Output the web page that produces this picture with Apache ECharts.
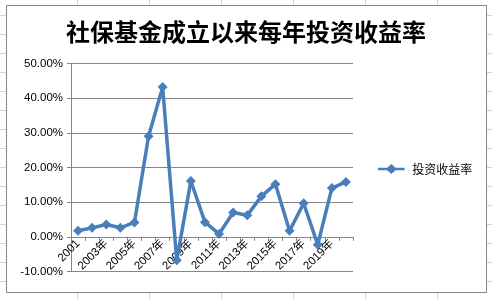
<!DOCTYPE html>
<html><head><meta charset="utf-8">
<script src="https://cdn.jsdelivr.net/npm/echarts@6/dist/echarts.min.js"></script>
<style>html,body{margin:0;padding:0;background:#fff}#c{width:492px;height:299px}</style>
</head><body><div id="c"></div>
<script>
const title = '社保基金成立以来每年投资收益率';
const seriesName = '投资收益率';
const categories = ['2001','2002年','2003年','2004年','2005年','2006年','2007年','2008年','2009年','2010年','2011年','2012年','2013年','2014年','2015年','2016年','2017年','2018年','2019年','2020年'];
const returns = [1.73, 2.59, 3.56, 2.61, 4.16, 29.01, 43.19, -6.79, 16.12, 4.23, 0.84, 7.01, 6.20, 11.69, 15.19, 1.73, 9.68, -2.28, 14.06, 15.84];
const yTicks = {min: -10, max: 50, interval: 10};

const sheet = '#d4d4d4';
const graphics = [];
[77,149,221,293,365,437].forEach(x=>{
  graphics.push({type:'line',shape:{x1:x+0.5,y1:0,x2:x+0.5,y2:5},style:{stroke:sheet,lineWidth:1},silent:true});
  graphics.push({type:'line',shape:{x1:x+0.5,y1:293,x2:x+0.5,y2:299},style:{stroke:sheet,lineWidth:1},silent:true});
});
for(let y=15;y<299;y+=19){
  graphics.push({type:'line',shape:{x1:0,y1:y+0.5,x2:6,y2:y+0.5},style:{stroke:sheet,lineWidth:1},silent:true});
  graphics.push({type:'line',shape:{x1:487,y1:y+0.5,x2:492,y2:y+0.5},style:{stroke:sheet,lineWidth:1},silent:true});
}
graphics.push({type:'rect',shape:{x:6.5,y:5.5,width:480,height:287},style:{fill:null,stroke:'#868686',lineWidth:1},silent:true,z:-1});

const gridTop = 63.5, gridBottom = 27.5, H = 299;
const plotH = H - gridTop - gridBottom;
const zeroOffset = -plotH * (0 - yTicks.min) / (yTicks.max - yTicks.min);

const chart = echarts.init(document.getElementById('c'), null, {renderer:'canvas'});
chart.setOption({
  animation:false,
  backgroundColor:'#fff',
  graphic: graphics,
  title:{text:title,left:'center',top:15,textStyle:{fontFamily:'Noto Sans CJK SC',fontSize:24,fontWeight:'bold',color:'#000'}},
  legend:{show:true,data:[seriesName],left:373,top:158,orient:'vertical',itemWidth:32,itemHeight:10,
    icon:'path://M0,3.6 L11,3.6 L16,-1 L21,3.6 L32,3.6 L32,6.4 L21,6.4 L16,11 L11,6.4 L0,6.4 Z',
    itemStyle:{color:'#4a7ebb'},
    textStyle:{fontSize:12,color:'#000',fontFamily:'Noto Sans CJK SC'},itemGap:4},
  grid:{left:71,right:139,top:gridTop,bottom:gridBottom,containLabel:false,outerBoundsMode:'none'},
  xAxis:{type:'category',data:categories,boundaryGap:true,position:'bottom',offset:zeroOffset,
    axisLine:{onZero:false,lineStyle:{color:'#868686',width:1}},
    axisTick:{show:true,interval:0,length:4,lineStyle:{color:'#868686'}},
    axisLabel:{interval:1,rotate:45,fontSize:11.5,color:'#000',margin:5,fontFamily:'Liberation Sans, Noto Sans CJK SC'}},
  yAxis:{type:'value',min:yTicks.min,max:yTicks.max,interval:yTicks.interval,
    axisLine:{show:true,lineStyle:{color:'#868686'}},
    axisTick:{show:true,length:4,lineStyle:{color:'#868686'}},
    axisLabel:{formatter:v=>v.toFixed(2)+'%',fontSize:11.5,color:'#000',margin:8,fontFamily:'Liberation Sans'},
    splitLine:{lineStyle:{color:'#868686',width:1}}},
  series:[{name:seriesName,type:'line',data:returns,symbol:'diamond',symbolSize:10,showAllSymbol:true,
    lineStyle:{color:'#4a7ebb',width:3.5},itemStyle:{color:'#4a7ebb'}}]
});
</script></body></html>
